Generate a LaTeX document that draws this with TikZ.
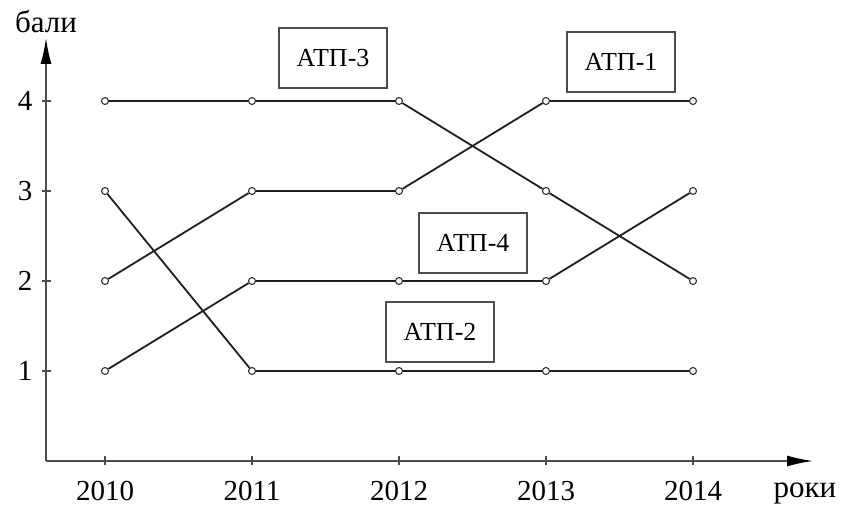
\documentclass[tikz,border=0pt]{standalone}
\usepackage{fontspec}
\setmainfont{Liberation Serif}
\usetikzlibrary{arrows.meta}
\begin{document}
\begin{tikzpicture}[x=1pt,y=1pt,
  axis/.style={draw=black!70, line width=1.6pt},
  arrowaxis/.style={axis, -{Latex[length=26pt,width=11pt,black]}},
  tickmark/.style={draw=black!70, line width=1.3pt},
  series/.style={draw=black!88, line width=1.8pt},
  dot/.style={circle, draw=black!80, fill=white, line width=1.1pt, inner sep=0pt, minimum size=7pt},
  tag/.style={draw=black!70, line width=1.3pt, minimum width=108pt, minimum height=60pt, inner sep=0pt, font=\fontsize{26}{30}\selectfont},
  lbl/.style={font=\fontsize{29}{34}\selectfont, inner sep=0pt},
  axlbl/.style={font=\fontsize{31}{36}\selectfont, inner sep=0pt}]
\useasboundingbox (0,0) rectangle (841,506);

% axes
\coordinate (origin) at (46,45);
\coordinate (ytop) at (46,468);
\coordinate (xend) at (813,45);
\draw[arrowaxis] (origin) -- (ytop);
\draw[arrowaxis] (origin) -- (xend);
\node[axlbl, anchor=base] (ylab) at (46,473) {бали};
\node[axlbl, anchor=base] (xlab) at (805,8) {роки};

% value ticks and labels
\foreach \v/\yy in {1/135, 2/225, 3/315, 4/405} {
  \draw[tickmark] (42,\yy) -- (51,\yy);
  \node[lbl] (v\v) at (25,\yy) {\v};
}
% year ticks and labels
\foreach \yr/\xx in {2010/105, 2011/252, 2012/399, 2013/546, 2014/693} {
  \draw[tickmark] (\xx,41) -- (\xx,50);
  \node[lbl, anchor=base] (y\yr) at (\xx,5) {\yr};
}

% data points: series a = АТП-3, b = АТП-1, c = АТП-4, d = АТП-2
\foreach \s/\ya/\yb/\yc/\yd/\ye in {a/405/405/405/315/225, b/225/315/315/405/405, c/135/225/225/225/315, d/315/135/135/135/135} {
  \node[dot] (\s1) at (105,\ya) {};
  \node[dot] (\s2) at (252,\yb) {};
  \node[dot] (\s3) at (399,\yc) {};
  \node[dot] (\s4) at (546,\yd) {};
  \node[dot] (\s5) at (693,\ye) {};
  \draw[series] (\s1) -- (\s2) -- (\s3) -- (\s4) -- (\s5);
}

% series tags
\node[tag] (tagA) at (333,448) {АТП-3};
\node[tag] (tagB) at (621,444) {АТП-1};
\node[tag] (tagC) at (473,263) {АТП-4};
\node[tag] (tagD) at (440,174) {АТП-2};
\end{tikzpicture}
\end{document}
